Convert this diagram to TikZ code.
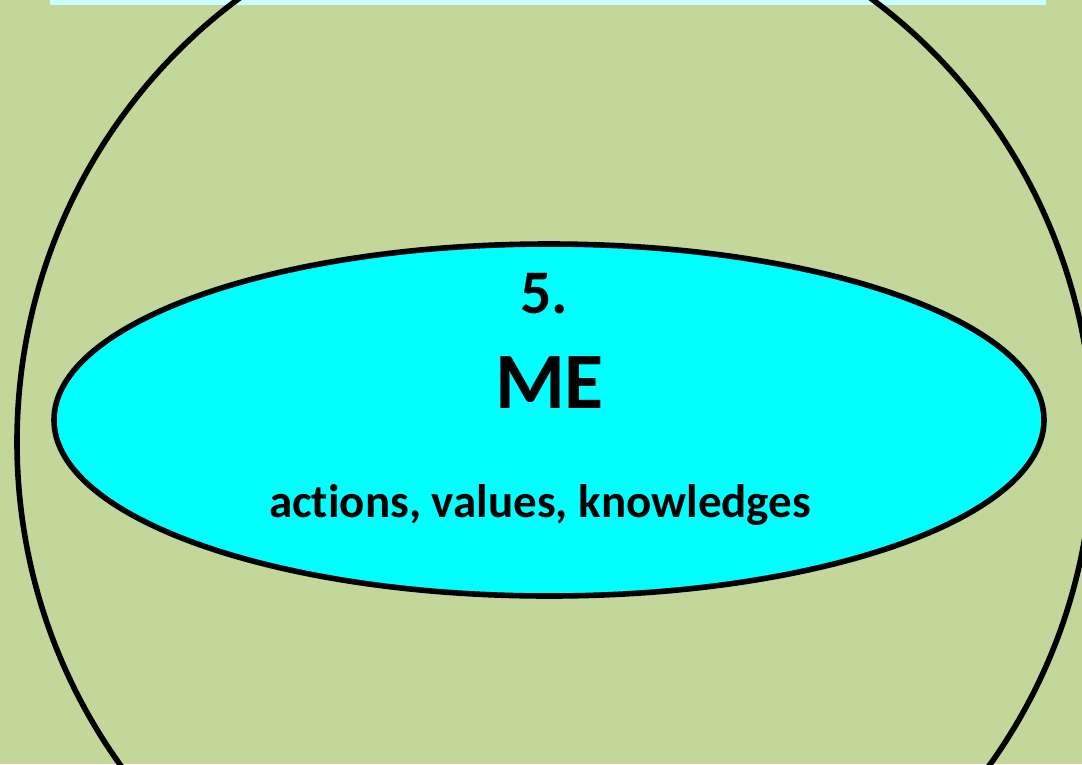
\documentclass[tikz,border=0pt]{standalone}
\usepackage{fontspec}
\setmainfont[Ligatures={NoCommon,NoRequired,NoContextual}]{Carlito}
\usetikzlibrary{shapes.geometric}
\definecolor{bggreen}{HTML}{C4D79B}
\definecolor{stripcyan}{HTML}{CCFFFF}
\definecolor{mecyan}{HTML}{00FFFF}
\tikzset{
  outline/.style={draw=black, line width=5.6pt},
  lbl/.style={anchor=base, inner sep=0pt, font=\bfseries}
}
\begin{document}
\begin{tikzpicture}[x=1pt,y=-1pt]
\useasboundingbox (0,0) rectangle (1082,764);
\fill[bggreen] (0,0) rectangle (1082,764);
\fill[stripcyan] (50,0) rectangle (1046,5);
\begin{scope}
\clip (0,0) rectangle (1082,764);
\draw[outline] (555,442) ellipse [x radius=538, y radius=548];
\end{scope}
\node[outline, fill=mecyan, ellipse, minimum width=990pt, minimum height=352pt, inner sep=0pt] (me) at (549,420) {};
\node[lbl, font=\bfseries\fontsize{62}{62}\selectfont] (num) at (544.5,313) {5.};
\node[lbl, font=\bfseries\fontsize{80}{80}\selectfont] (title) at (549.5,408) {ME};
\node[lbl, font=\bfseries\fontsize{47}{47}\selectfont] (sub) at (540,517) {actions, values, knowledges};
\end{tikzpicture}
\end{document}
